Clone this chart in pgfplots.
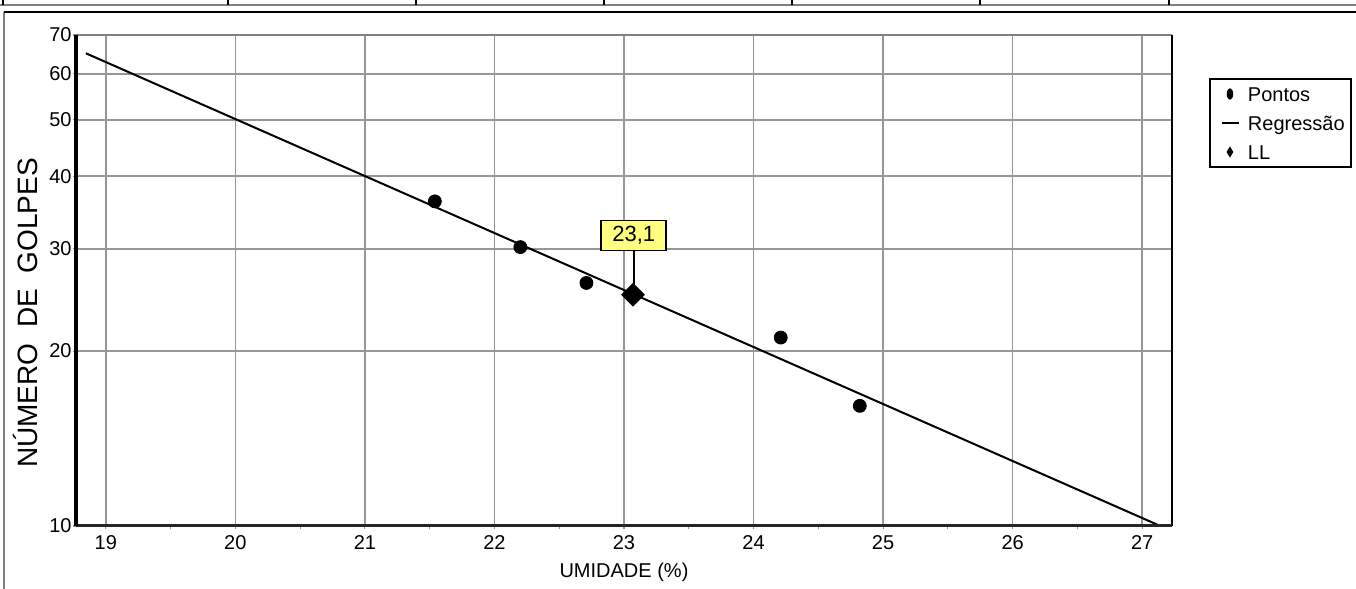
\documentclass[border=0pt]{standalone}
\usepackage{fontspec}
\setmainfont{Liberation Sans}
\usepackage{pgfplots}
\pgfplotsset{compat=1.18}
\definecolor{gridgray}{RGB}{150,150,150}
\definecolor{lblyellow}{RGB}{255,255,128}
\begin{document}
\begin{tikzpicture}
\path[use as bounding box] (0pt,0pt) rectangle (678pt,294.5pt);
% top table row
\draw[gray, line width=0.75pt] (0pt,292pt) -- (678pt,292pt);
\foreach \xx in {1.5,114,208,302,396,490,584.5} \draw[black, line width=0.6pt] (\xx pt,292pt) -- (\xx pt,294.5pt);
% frame
\draw[gray, line width=0.75pt] (2pt,0pt) -- (2pt,288.5pt);
\draw[black, line width=0.75pt] (2pt,288.5pt) -- (678pt,288.5pt);
\begin{axis}[
  at={(38pt,31.5pt)}, anchor=south west,
  scale only axis, width=548pt, height=245.5pt,
  xmin=18.77, xmax=27.23, ymin=10, ymax=70, ymode=log,
  xtick={19,20,...,27},
  minor xtick={19.5,20.5,...,26.5},
  ytick={10,20,30,40,50,60,70}, yticklabels={10,20,30,40,50,60,70},
  yminorticks=false,
  grid=major, major grid style={gridgray, line width=0.75pt},
  axis line style={draw=none},
  tick align=outside, tick pos=left,
  tick style={gridgray, line width=0.6pt}, major tick length=1.5pt, minor tick length=1.5pt,
  /pgf/number format/assume math mode=true,
  every tick label/.append style={font=\fontsize{10}{12}\selectfont},
  xticklabel style={inner ysep=0pt, yshift=-3pt},
  yticklabel style={inner xsep=0pt, xshift=-0.5pt},
  xlabel={UMIDADE (\%)},
  xlabel style={at={(axis description cs:0.5,-0.1039)}, anchor=base, font=\fontsize{10}{12}\selectfont},
  ylabel={NÚMERO\ \ DE\ \ GOLPES},
  ylabel style={at={(axis description cs:-0.0347,0.4338)}, anchor=base, font=\fontsize{14}{16}\selectfont},
  legend style={at={(axis description cs:1.0338,0.9124)}, anchor=north west,
    draw=black, line width=0.9pt, inner xsep=3pt, inner ysep=1pt,
    row sep=1.4pt, column sep=0pt,
    nodes={inner sep=0pt, text height=10.2pt, text depth=2.9pt},
    font=\fontsize{10}{12}\selectfont},
  legend cell align=left,
  clip=false,
]
\addplot[only marks, mark=*, mark size=3.25pt, black,
  legend image code/.code={\path[draw=none] (-1pt,0pt) -- (15pt,0pt); \fill[black, draw=none] (6pt,0pt) ellipse [x radius=1.6pt, y radius=2.9pt];}]
  coordinates {(21.54,36.2) (22.20,30.2) (22.71,26.2) (24.21,21.1) (24.82,16.1)};
\addlegendentry{Pontos}
\addplot[black, line width=1pt, no marks,
  legend image code/.code={\path[draw=none] (-1pt,0pt) -- (15pt,0pt); \draw[black, line width=0.8pt] (2pt,0pt) -- (10.5pt,0pt);}]
  coordinates {(18.846,65.1) (27.14,10)};
\addlegendentry{Regressão}
\addplot[only marks, mark=square*, mark size=4pt, mark options={rotate=45}, black,
  legend image code/.code={\path[draw=none] (-1pt,0pt) -- (15pt,0pt); \fill[black, draw=none] (6pt,2.8pt) -- (7.7pt,0pt) -- (6pt,-2.8pt) -- (4.3pt,0pt) -- cycle;}]
  coordinates {(23.07,25)};
\addlegendentry{LL}
% annotation
\draw[black, line width=0.9pt] (axis cs:23.075,29.7) -- (axis cs:23.075,25);
\node[draw=black, line width=0.9pt, fill=lblyellow, minimum width=32.5pt, minimum height=15pt,
  inner sep=0pt, font=\fontsize{11}{13}\selectfont, anchor=south] at (axis cs:23.075,29.7) {23,1};
% axis lines
\draw[gray, line width=1pt] (rel axis cs:0,1) -- (rel axis cs:1,1);
\draw[black, line width=1pt] (rel axis cs:1,0) -- (rel axis cs:1,1);
\draw[black!85, line width=1.5pt] (rel axis cs:0,0) -- (rel axis cs:1,0);
\draw[black, line width=2pt] (rel axis cs:0,0) -- (rel axis cs:0,1);
\end{axis}
\end{tikzpicture}
\end{document}
